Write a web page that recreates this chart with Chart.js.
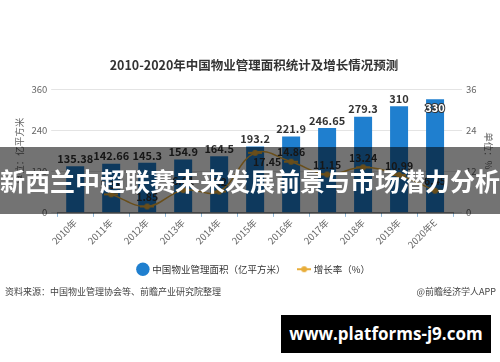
<!DOCTYPE html>
<html>
<head>
<meta charset="utf-8">
<script src="https://cdn.jsdelivr.net/npm/chart.js@4/dist/chart.umd.min.js"></script>
<style>
  body { margin: 0; background: #fff; }
  #wrap { position: relative; width: 500px; height: 362px; overflow: hidden; font-family: "Noto Sans CJK SC", sans-serif; }
  #c { position: absolute; left: 0; top: 0; }
  .src { position: absolute; top: 285px; font-size: 9px; color: #444; }
  #band { position: absolute; left: 0; top: 147px; width: 500px; height: 67px; background: rgba(0,0,0,0.55);
          color: #fff; font-weight: bold; font-size: 25px; line-height: 67px; text-align: center; white-space: nowrap; }
  #site { position: absolute; left: 281px; top: 315px; width: 210px; height: 38px; background: #000; color: #fff;
          font-family: "Open Sans", sans-serif; font-weight: bold; font-size: 17px; line-height: 38px; text-align: center; }
</style>
</head>
<body>
<div id="wrap">
  <canvas id="c" width="500" height="362"></canvas>
  <div class="src" style="left:5px">资料来源：中国物业管理协会等、前瞻产业研究院整理</div>
  <div class="src" style="right:4px">@前瞻经济学人APP</div>
  <div id="band">新西兰中超联赛未来发展前景与市场潜力分析</div>
  <div id="site">www.platforms-j9.com</div>
</div>
<script>
const years = ['2010年','2011年','2012年','2013年','2014年','2015年','2016年','2017年','2018年','2019年','2020年E'];
const area = [135.38, 142.66, 145.3, 154.9, 164.5, 193.2, 221.9, 246.65, 279.3, 310, 330];
const growth = [null, 5.38, 1.85, 6.61, 6.2, 17.45, 14.86, 11.15, 13.24, 10.99, 6.45];
const leftTicks = [0, 120, 240, 360];
const rightTicks = [0, 12, 24, 36];

const blue = '#1f7fcf';
const gold = '#e8ad3a';
const cjk = '"Noto Sans CJK SC", sans-serif';

// legend marker for the line series: short dash with a dot
const lineMark = document.createElement('canvas');
lineMark.width = 14; lineMark.height = 8;
const lm = lineMark.getContext('2d');
lm.strokeStyle = gold; lm.lineWidth = 2;
lm.beginPath(); lm.moveTo(0, 4); lm.lineTo(14, 4); lm.stroke();
lm.fillStyle = gold; lm.beginPath(); lm.arc(7, 4, 3, 0, Math.PI * 2); lm.fill();

const valueLabels = {
  id: 'valueLabels',
  afterDatasetsDraw(chart) {
    const ctx = chart.ctx;
    ctx.save();
    ctx.textAlign = 'center';
    // bar values
    const bars = chart.getDatasetMeta(1);
    bars.data.forEach((el, i) => {
      ctx.font = 'bold 11px ' + cjk;
      if (i === area.length - 1) {
        ctx.textBaseline = 'top';
        ctx.lineWidth = 2;
        ctx.strokeStyle = '#333';
        ctx.strokeText(area[i], el.x, el.y + 3);
        ctx.fillStyle = '#fff';
        ctx.fillText(area[i], el.x, el.y + 3);
      } else {
        ctx.textBaseline = 'bottom';
        ctx.fillStyle = '#333';
        ctx.fillText(area[i], el.x, el.y - 2);
      }
    });
    // growth values (the 2015 one sits below its point, clear of the bar label)
    const pts = chart.getDatasetMeta(0);
    pts.data.forEach((el, i) => {
      if (growth[i] == null) return;
      ctx.font = 'bold 10.5px ' + cjk;
      ctx.fillStyle = '#333';
      if (i === 5) {
        ctx.textBaseline = 'top';
        ctx.fillText(growth[i], el.x + 12, el.y + 4);
      } else {
        ctx.textBaseline = 'bottom';
        ctx.fillText(growth[i], el.x, el.y - 4);
      }
    });
    ctx.restore();
  }
};

new Chart(document.getElementById('c'), {
  data: {
    labels: years,
    datasets: [
      {
        type: 'line',
        label: '增长率（%）',
        data: growth,
        yAxisID: 'y1',
        borderColor: gold,
        backgroundColor: gold,
        borderWidth: 1.5,
        pointRadius: 3,
        pointBackgroundColor: gold,
        pointBorderColor: gold,
        tension: 0.4,
        pointStyle: lineMark,
        order: 0
      },
      {
        type: 'bar',
        label: '中国物业管理面积（亿平方米）',
        data: area,
        yAxisID: 'y',
        backgroundColor: blue,
        barPercentage: 0.5,
        categoryPercentage: 1,
        pointStyle: 'circle',
        order: 1
      }
    ]
  },
  options: {
    responsive: false,
    animation: false,
    layout: { padding: { left: 12, right: 4, top: 58, bottom: 78 } },
    plugins: {
      title: {
        display: true,
        text: '2010-2020年中国物业管理面积统计及增长情况预测',
        color: '#333',
        font: { family: cjk, size: 12.5, weight: 'bold' },
        padding: { top: 0, bottom: 16 }
      },
      legend: {
        position: 'bottom',
        reverse: true,
        labels: {
          usePointStyle: true,
          boxWidth: 10,
          boxHeight: 10,
          padding: 14,
          color: '#333',
          font: { family: cjk, size: 9.5 }
        }
      },
      tooltip: { enabled: false }
    },
    scales: {
      x: {
        offset: true,
        grid: { drawOnChartArea: false, drawTicks: true, tickLength: 4, color: '#8fb8d8' },
        border: { color: '#999' },
        ticks: { color: '#666', font: { family: cjk, size: 9.5 }, minRotation: 45, maxRotation: 45, padding: 0 }
      },
      y: {
        position: 'left',
        min: 0, max: 360,
        afterBuildTicks: s => { s.ticks = leftTicks.map(v => ({ value: v })); },
        grid: { color: '#e4e4e4', tickLength: 6 },
        border: { display: false },
        ticks: { color: '#666', font: { family: cjk, size: 9.5 }, padding: 4 },
        title: { display: true, text: '单位：亿平方米', color: '#666', font: { family: cjk, size: 9.5 }, padding: 2 }
      },
      y1: {
        position: 'right',
        min: 0, max: 36,
        afterBuildTicks: s => { s.ticks = rightTicks.map(v => ({ value: v })); },
        grid: { drawOnChartArea: false, color: '#e4e4e4', tickLength: 9 },
        border: { display: false },
        ticks: { color: '#666', font: { family: cjk, size: 9.5 }, padding: 4 },
        title: { display: true, text: '单位：%', color: '#666', font: { family: cjk, size: 9.5 }, padding: 2 }
      }
    }
  },
  plugins: [valueLabels]
});
</script>
</body>
</html>
